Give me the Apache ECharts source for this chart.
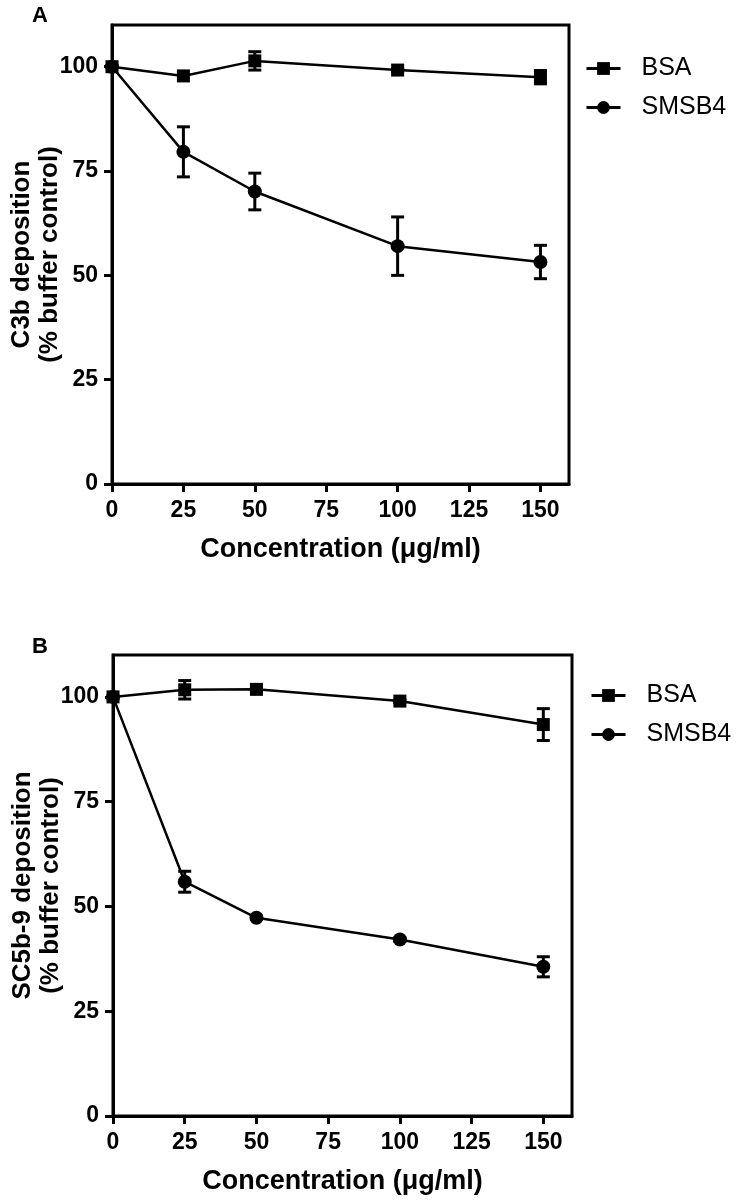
<!DOCTYPE html>
<html>
<head>
<meta charset="utf-8">
<script src="https://cdn.jsdelivr.net/npm/echarts@6/dist/echarts.min.js"></script>
<style>
html,body{margin:0;padding:0;background:#fff;}
#chart{width:739px;height:1201px;}
</style>
</head>
<body>
<div id="chart"></div>
<script>
// ---- data ----
const concentrations = [0, 25, 50, 100, 150];
const xTicks = [0, 25, 50, 75, 100, 125, 150];
const yTicks = [0, 25, 50, 75, 100];

const seriesNames = ['BSA', 'SMSB4'];

// Panel A: C3b deposition
const a_bsa = [100, 97.8, 101.4, 99.2, 97.5];
const a_bsa_err = [0, 0, 2.2, 0.4, 1.6];
const a_smsb4 = [100, 79.6, 70.1, 57.0, 53.2];
const a_smsb4_err = [0, 6.0, 4.4, 7.0, 4.0];

// Panel B: SC5b-9 deposition
const b_bsa = [100, 101.7, 101.8, 99.0, 93.4];
const b_bsa_err = [0, 2.2, 0.3, 0.3, 3.8];
const b_smsb4 = [100, 55.9, 47.3, 42.1, 35.6];
const b_smsb4_err = [0, 2.5, 0.4, 0.4, 2.4];

const panelLabels = ['A', 'B'];
const yTitles = ['C3b deposition\n(% buffer control)', 'SC5b-9 deposition\n(% buffer control)'];
const xTitle = 'Concentration (\u03bcg/ml)';

// ---- chart ----
const FONT = '"Liberation Sans", Arial, Helvetica, sans-serif';
const chart = echarts.init(document.getElementById('chart'), null, {renderer: 'canvas'});

function pts(vals) { return concentrations.map((c, i) => [c, vals[i]]); }
function errPts(vals, errs) { return concentrations.map((c, i) => [c, vals[i], errs[i]]); }

function errorSeries(idx, vals, errs) {
  return {
    type: 'custom',
    xAxisIndex: idx, yAxisIndex: idx,
    data: errPts(vals, errs),
    z: 3,
    silent: true,
    renderItem: function (params, api) {
      const x = api.value(0), y = api.value(1), e = api.value(2);
      if (!e) return null;
      const top = api.coord([x, y + e]);
      const bot = api.coord([x, y - e]);
      const hw = 6.5;
      const st = {stroke: '#000', lineWidth: 3};
      return {
        type: 'group',
        children: [
          {type: 'line', shape: {x1: top[0], y1: top[1], x2: bot[0], y2: bot[1]}, style: st},
          {type: 'line', shape: {x1: top[0] - hw, y1: top[1], x2: top[0] + hw, y2: top[1]}, style: st},
          {type: 'line', shape: {x1: bot[0] - hw, y1: bot[1], x2: bot[0] + hw, y2: bot[1]}, style: st}
        ]
      };
    }
  };
}

function lineSeries(idx, name, vals, symbol, size) {
  return {
    type: 'line', name: name,
    xAxisIndex: idx, yAxisIndex: idx,
    data: pts(vals),
    symbol: symbol, symbolSize: size,
    showAllSymbol: true,
    lineStyle: {color: '#000', width: 2.5},
    itemStyle: {color: '#000'},
    z: 4,
    animation: false
  };
}

const grids = [
  {left: 112, top: 25, width: 457, height: 459},
  {left: 113, top: 655, width: 459, height: 461}
];

function xAxis(idx) {
  return {
    type: 'value', gridIndex: idx, min: 0, max: 160, interval: 25,
    name: xTitle, nameLocation: 'middle', nameGap: 52,
    nameMoveOverlap: false,
    nameTextStyle: {fontFamily: FONT, fontWeight: 'bold', fontSize: 27, color: '#000'},
    axisLine: {show: true, lineStyle: {color: '#000', width: 3}},
    axisTick: {show: true, length: 8, lineStyle: {color: '#000', width: 3}, customValues: xTicks},
    axisLabel: {fontFamily: FONT, fontWeight: 'bold', fontSize: 23, color: '#000', margin: 15, customValues: xTicks},
    splitLine: {show: false}
  };
}
function yAxis(idx) {
  return {
    type: 'value', gridIndex: idx, min: 0, max: 110, interval: 25,
    name: yTitles[idx], nameLocation: 'middle', nameGap: 48, nameRotate: 90,
    nameMoveOverlap: false,
    nameTextStyle: {fontFamily: FONT, fontWeight: 'bold', fontSize: 26, color: '#000', lineHeight: 28},
    axisLine: {show: true, lineStyle: {color: '#000', width: 3}},
    axisTick: {show: true, length: 8, lineStyle: {color: '#000', width: 3}, customValues: yTicks},
    axisLabel: {fontFamily: FONT, fontWeight: 'bold', fontSize: 23, color: '#000', margin: 14, customValues: yTicks},
    splitLine: {show: false}
  };
}

function legend(left, top) {
  return {
    data: seriesNames.map(n => ({name: n})),
    orient: 'vertical', left: left, top: top,
    itemWidth: 34, itemHeight: 16, itemGap: 14,
    lineStyle: {width: 3},
    textStyle: {fontFamily: FONT, fontSize: 25, color: '#000', padding: [0, 0, 0, 16]},
    selectedMode: false
  };
}

const option = {
  backgroundColor: '#fff',
  animation: false,
  title: [
    {text: panelLabels[0], left: 27, top: 0, textStyle: {fontFamily: FONT, fontWeight: 'bold', fontSize: 22, color: '#000'}},
    {text: panelLabels[1], left: 27, top: 631, textStyle: {fontFamily: FONT, fontWeight: 'bold', fontSize: 22, color: '#000'}}
  ],
  grid: grids.map(g => Object.assign({show: true, borderColor: '#000', borderWidth: 3, backgroundColor: 'transparent', outerBoundsMode: 'none', containLabel: false}, g)),
  xAxis: [xAxis(0), xAxis(1)],
  yAxis: [yAxis(0), yAxis(1)],
  legend: [legend(580, 51), legend(585, 678)],
  series: [
    lineSeries(0, seriesNames[0], a_bsa, 'rect', 13),
    lineSeries(0, seriesNames[1], a_smsb4, 'circle', 14),
    errorSeries(0, a_bsa, a_bsa_err),
    errorSeries(0, a_smsb4, a_smsb4_err),
    lineSeries(1, seriesNames[0], b_bsa, 'rect', 13),
    lineSeries(1, seriesNames[1], b_smsb4, 'circle', 14),
    errorSeries(1, b_bsa, b_bsa_err),
    errorSeries(1, b_smsb4, b_smsb4_err)
  ]
};
chart.setOption(option);
</script>
</body>
</html>
